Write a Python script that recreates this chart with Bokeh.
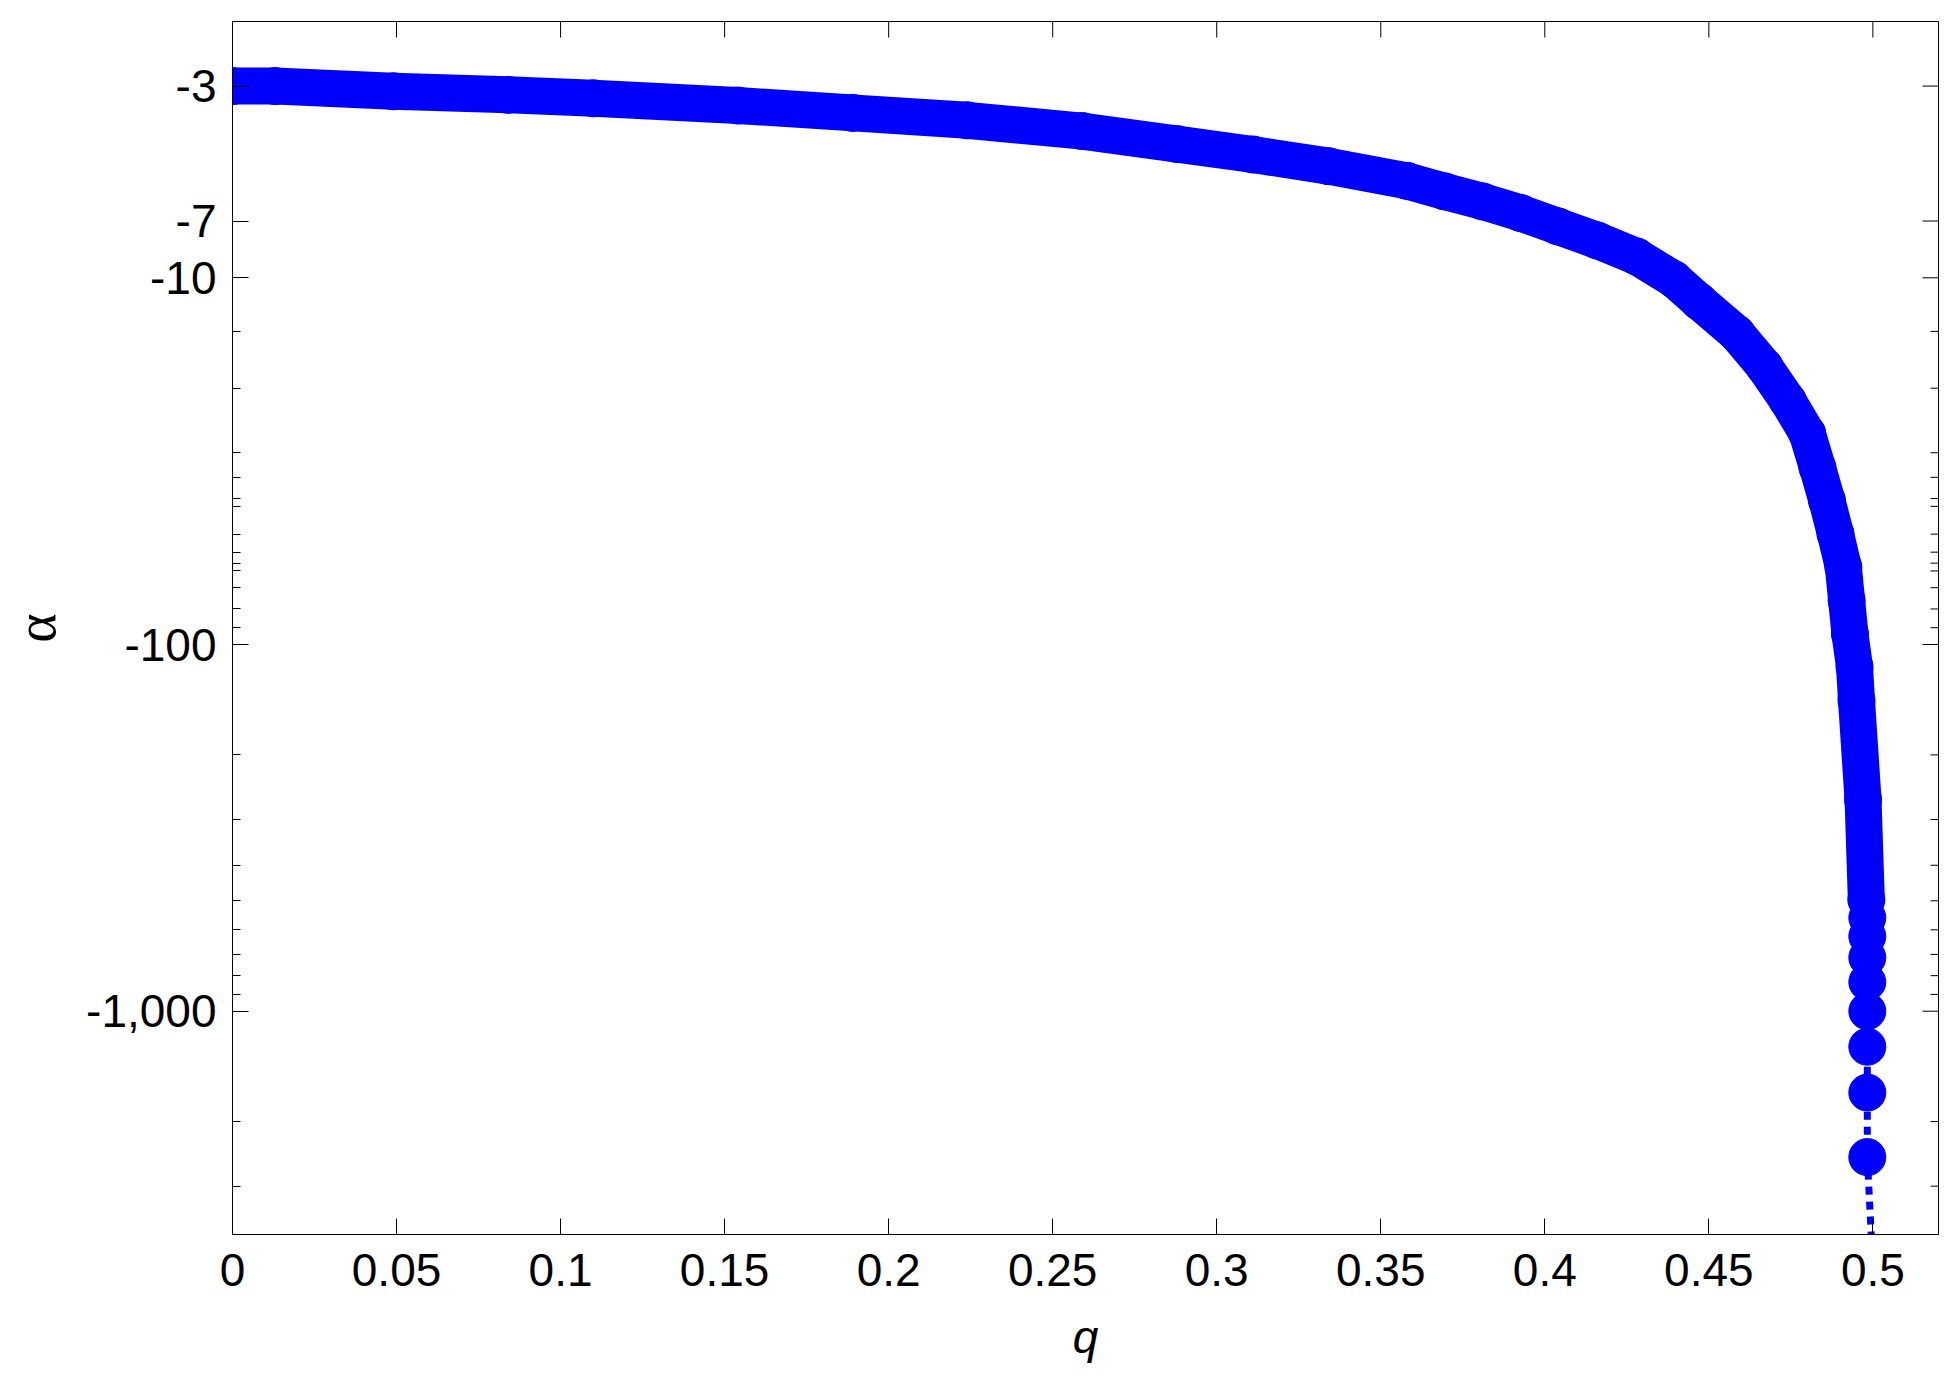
from bokeh.plotting import figure
from bokeh.models import Range1d, FixedTicker, ColumnDataSource
from bokeh.embed import file_html
from bokeh.resources import INLINE
import math

# ---- data ----
q_values = [0.000, 0.013, 0.049, 0.084, 0.110, 0.154, 0.189, 0.224, 0.259,
            0.288, 0.311, 0.334, 0.358, 0.3694, 0.381, 0.3927, 0.404, 0.416,
            0.428, 0.4394, 0.447, 0.4585, 0.467, 0.474, 0.480, 0.4831,
            0.486, 0.4886, 0.491, 0.492, 0.493, 0.4944, 0.495, 0.497, 0.498,
            0.4983, 0.4983, 0.4983, 0.4983, 0.4983, 0.4983, 0.4983, 0.4983,
            0.500]
alpha_values = [-3.0, -3.0, -3.10, -3.17, -3.24, -3.39, -3.55, -3.72, -3.98,
                -4.32, -4.61, -4.96, -5.44, -5.81, -6.19, -6.66, -7.24, -7.91,
                -8.75, -10.1, -11.6, -14.2, -17.5, -21.6, -26.6, -32.9,
                -40.5, -49.9, -61.5, -75.9, -93.5, -115, -142, -265, -497,
                -556, -625, -714, -833, -1000, -1250, -1667, -2500,
                -5000]

x_tick_values = [0, 0.05, 0.1, 0.15, 0.2, 0.25, 0.3, 0.35, 0.4, 0.45, 0.5]
x_tick_labels = ["0", "0.05", "0.1", "0.15", "0.2", "0.25", "0.3", "0.35", "0.4", "0.45", "0.5"]
y_tick_values = [3, 7, 10, 100, 1000]
y_tick_labels = ["-3", "-7", "-10", "-100", "-1,000"]
y_minor_ticks = [14, 20, 30, 35, 40, 42, 50, 56, 60, 63, 70, 80, 90,
                 200, 300, 400, 500, 600, 700, 800, 900, 2000, 3000]

x_label = "q"
y_label = "\u03b1"

BLUE = "#0000FF"
FONT = "Liberation Sans"

X0, X1 = 0.0, 0.52
Y_BOTTOM, Y_TOP = 4064, 2.0

magnitude = [-a for a in alpha_values]
src = ColumnDataSource(data=dict(q=q_values, m=magnitude))
band = [(q, m) for q, m in zip(q_values, magnitude) if m <= 500]
band_src = ColumnDataSource(data=dict(q=[b[0] for b in band], m=[b[1] for b in band]))

p = figure(width=1950, height=1379,
           x_range=Range1d(X0, X1), y_range=Range1d(Y_BOTTOM, Y_TOP),
           y_axis_type="log", output_backend="svg", toolbar_location=None,
           min_border_left=232, min_border_right=12, min_border_top=21,
           min_border_bottom=145)
p.xgrid.visible = False
p.ygrid.visible = False
p.outline_line_color = "black"
p.outline_line_width = 1
p.background_fill_color = "white"
p.border_fill_color = "white"

# curve: dotted connecting line, thick band of dense markers, markers
p.line("q", "m", source=src, line_color=BLUE, line_width=7, line_dash="8 7")
p.line("q", "m", source=band_src, line_color=BLUE, line_width=37,
       line_join="round", line_cap="round")
p.scatter("q", "m", source=src, marker="circle", size=37,
          fill_color=BLUE, line_color=BLUE)

# mirrored inward ticks on the top and right frame edges (clipped half-dashes)
p.scatter(x_tick_values, [Y_TOP] * len(x_tick_values), marker="dash",
          angle=math.pi / 2, size=32, line_color="black", line_width=1)
p.scatter([X1] * len(y_tick_values), y_tick_values, marker="dash",
          size=32, line_color="black", line_width=1)
p.scatter([X1] * len(y_minor_ticks), y_minor_ticks, marker="dash",
          size=16, line_color="black", line_width=1)


def style_axis(ax):
    ax.axis_line_color = "black"
    ax.axis_line_width = 1
    ax.major_tick_line_color = "black"
    ax.minor_tick_line_color = "black"
    ax.major_tick_in = 16
    ax.major_tick_out = 0
    ax.minor_tick_in = 8
    ax.minor_tick_out = 0
    ax.major_label_text_font = FONT
    ax.major_label_text_font_size = "46px"
    ax.major_label_text_color = "black"
    ax.axis_label_text_color = "black"


xa = p.xaxis[0]
xa.ticker = FixedTicker(ticks=x_tick_values, minor_ticks=[])
xa.major_label_overrides = dict(zip(x_tick_values, x_tick_labels))
style_axis(xa)
xa.major_label_standoff = 19
xa.axis_label = x_label
xa.axis_label_text_font = FONT
xa.axis_label_text_font_style = "italic"
xa.axis_label_text_font_size = "46px"
xa.axis_label_standoff = 22

ya = p.yaxis[0]
ya.ticker = FixedTicker(ticks=y_tick_values, minor_ticks=y_minor_ticks)
ya.major_label_overrides = dict(zip(y_tick_values, y_tick_labels))
style_axis(ya)
ya.major_label_standoff = 16
ya.axis_label = y_label
ya.axis_label_text_font = "Liberation Serif"
ya.axis_label_text_font_style = "normal"
ya.axis_label_text_font_size = "56px"
ya.axis_label_standoff = 16

open("out.html", "w").write(file_html(p, INLINE))
